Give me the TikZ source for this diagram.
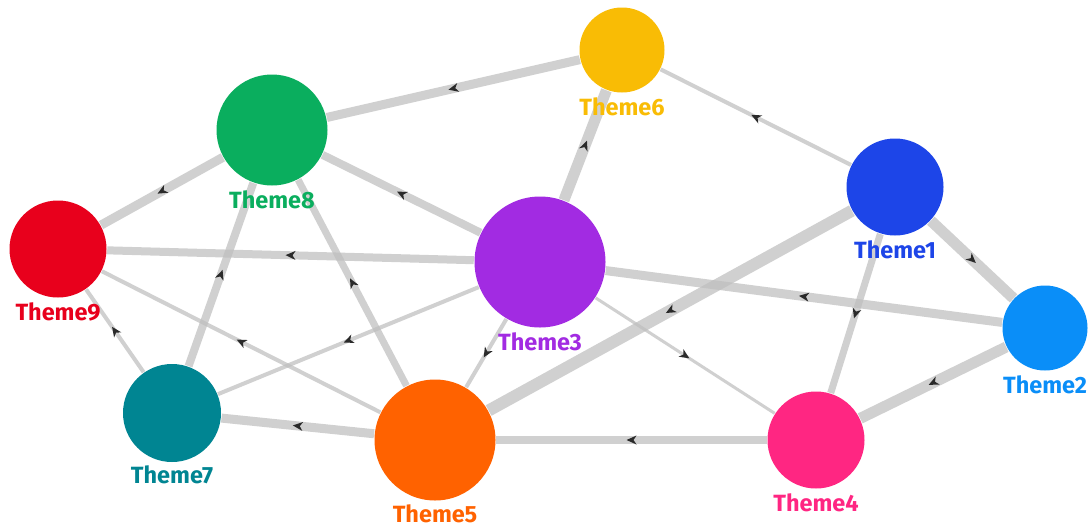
\documentclass[tikz,border=0pt]{standalone}
\usepackage{fontspec}
\setmainfont{Fira Sans}
\usetikzlibrary{decorations.markings}
\definecolor{c1}{HTML}{1D45E8}
\definecolor{c2}{HTML}{0A8EF8}
\definecolor{c3}{HTML}{A22BE2}
\definecolor{c4}{HTML}{FF2682}
\definecolor{c5}{HTML}{FF6200}
\definecolor{c6}{HTML}{F9BC05}
\definecolor{c7}{HTML}{008592}
\definecolor{c8}{HTML}{0AAE5E}
\definecolor{c9}{HTML}{E8001C}
\definecolor{edgec}{HTML}{BEBEBE}
\definecolor{tipc}{HTML}{2A2A2A}
\tikzset{
  theme/.style={circle, draw=white, line width=1.5pt, inner sep=0pt, minimum size=#1},
  lbl/.style={inner sep=0pt, anchor=north, font=\fontsize{23.5}{23.5}\selectfont\bfseries},
  edge/.style={draw=edgec, draw opacity=0.72, line width=#1,
    postaction={decorate, decoration={markings, mark=at position 0.5 with {
      \fill[tipc, opacity=1] (5pt,0pt) -- (-5pt,4.5pt) -- (-2pt,0pt) -- (-5pt,-4.5pt) -- cycle;}}}}
}
\begin{document}
\begin{tikzpicture}[x=1pt, y=-1pt]
\useasboundingbox[fill=white] (0,0) rectangle (1089,528);
% nodes (placed first so edges can refer to them; drawn again on top)
\path
  (895,187) node[theme=97pt] (n1) {}
  (1045,328) node[theme=85pt] (n2) {}
  (540,262) node[theme=131pt] (n3) {}
  (816,440) node[theme=97pt] (n4) {}
  (435,440) node[theme=121pt] (n5) {}
  (622,50) node[theme=85pt] (n6) {}
  (172,413) node[theme=98pt] (n7) {}
  (272,130) node[theme=111pt] (n8) {}
  (58,249) node[theme=97pt] (n9) {};
% edges
\draw[edge=9pt] (n6) -- (n8);
\draw[edge=11pt] (n3) -- (n6);
\draw[edge=8pt] (n3) -- (n8);
\draw[edge=4pt] (n1) -- (n6);
\draw[edge=11pt] (n1) -- (n2);
\draw[edge=12pt] (n1) -- (n5);
\draw[edge=9pt] (n2) -- (n3);
\draw[edge=7pt] (n1) -- (n4);
\draw[edge=9pt] (n8) -- (n9);
\draw[edge=8pt] (n3) -- (n9);
\draw[edge=8pt] (n7) -- (n8);
\draw[edge=4pt] (n5) -- (n9);
\draw[edge=4pt] (n7) -- (n9);
\draw[edge=4pt] (n3) -- (n7);
\draw[edge=7pt] (n5) -- (n8);
\draw[edge=4pt] (n3) -- (n5);
\draw[edge=3pt] (n3) -- (n4);
\draw[edge=9pt] (n5) -- (n7);
\draw[edge=8pt] (n4) -- (n5);
\draw[edge=11pt] (n2) -- (n4);
% circles on top
\fill[c1] (n1) circle (48.5pt);
\fill[c2] (n2) circle (42.5pt);
\fill[c3] (n3) circle (65.5pt);
\fill[c4] (n4) circle (48.5pt);
\fill[c5] (n5) circle (60.5pt);
\fill[c6] (n6) circle (42.5pt);
\fill[c7] (n7) circle (49pt);
\fill[c8] (n8) circle (55.5pt);
\fill[c9] (n9) circle (48.5pt);
% labels
\node[lbl, text=c1] (t1) at ([yshift=-4pt]n1.south) {Theme1};
\node[lbl, text=c2] (t2) at ([yshift=-4pt]n2.south) {Theme2};
\node[lbl, text=c3] (t3) at ([yshift=-4pt]n3.south) {Theme3};
\node[lbl, text=c4] (t4) at ([yshift=-4pt]n4.south) {Theme4};
\node[lbl, text=c5] (t5) at ([yshift=-3pt]n5.south) {Theme5};
\node[lbl, text=c6] (t6) at ([yshift=-4pt]n6.south) {Theme6};
\node[lbl, text=c7] (t7) at ([yshift=-3pt]n7.south) {Theme7};
\node[lbl, text=c8] (t8) at ([yshift=-4pt]n8.south) {Theme8};
\node[lbl, text=c9] (t9) at ([yshift=-4pt]n9.south) {Theme9};
\end{tikzpicture}
\end{document}
